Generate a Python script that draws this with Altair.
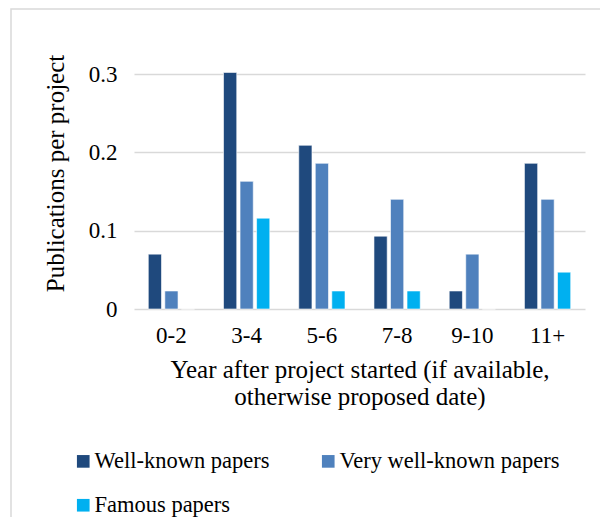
import altair as alt
import pandas as pd

categories = ["0-2", "3-4", "5-6", "7-8", "9-10", "11+"]
series = ["Well-known papers", "Very well-known papers", "Famous papers"]
well_known = [0.070, 0.302, 0.209, 0.093, 0.023, 0.186]
very_well_known = [0.023, 0.163, 0.186, 0.140, 0.070, 0.140]
famous = [0.0, 0.116, 0.023, 0.023, 0.0, 0.047]
colors = ["#1F497D", "#4F81BD", "#00B0F0"]
y_ticks = [0, 0.1, 0.2, 0.3]

rows = []
for i, c in enumerate(categories):
    for s, vals in zip(series, [well_known, very_well_known, famous]):
        rows.append({"year": c, "series": s, "value": vals[i]})
df = pd.DataFrame(rows)

FONT = "'Times New Roman', 'Liberation Serif', 'DejaVu Serif', serif"

bars = alt.Chart(df).mark_bar(stroke="white", strokeWidth=0.6, clip=False).encode(
    x=alt.X("year:N", sort=categories,
            scale=alt.Scale(paddingInner=0.385, paddingOuter=0.19),
            axis=alt.Axis(title=["Year after project started (if available,",
                                 "otherwise proposed date)"],
                          labelAngle=0, ticks=False, domain=False,
                          labelFontSize=23, labelPadding=15,
                          titleFontSize=25, titleFontWeight="normal",
                          titlePadding=10, titleLineHeight=27)),
    xOffset=alt.XOffset("series:N", sort=series,
                        scale=alt.Scale(paddingInner=0.2, paddingOuter=0)),
    y=alt.Y("value:Q",
            scale=alt.Scale(domain=[0, 0.3], nice=False),
            axis=alt.Axis(title="Publications per project", values=y_ticks,
                          format="~g", ticks=False, domain=False,
                          labelFontSize=23, labelPadding=17,
                          titleFontSize=25, titleFontWeight="normal",
                          titlePadding=20, titleY=99,
                          gridColor="#d9d9d9", gridWidth=1.3)),
    color=alt.Color("series:N", sort=series,
                    scale=alt.Scale(domain=series, range=colors),
                    legend=alt.Legend(title=None, orient="none", legendX=-62,
                                      legendY=376, columns=2, direction="horizontal",
                                      symbolType="square", symbolSize=160,
                                      symbolStrokeWidth=0,
                                      labelFontSize=22.5, labelOffset=0,
                                      columnPadding=47, rowPadding=21,
                                      labelLimit=400)),
)

border = alt.Chart(pd.DataFrame({"a": [0]})).mark_rect(
    fill=None, stroke="#d9d9d9", strokeWidth=1.5, clip=False
).encode(x=alt.value(-123), x2=alt.value(480), y=alt.value(-65), y2=alt.value(470))

chart = alt.layer(border, bars).properties(
    width=451, height=235,
    autosize=alt.AutoSizeParams(type="none"),
    padding={"left": 126, "top": 66, "right": 15, "bottom": 208},
).configure(font=FONT).configure_view(stroke=None).configure_axis(
    labelColor="#000000", titleColor="#000000", labelFont=FONT, titleFont=FONT
).configure_legend(labelFont=FONT, labelColor="#000000")

chart.save("out.html", embed_options={"renderer": "svg", "actions": False})
